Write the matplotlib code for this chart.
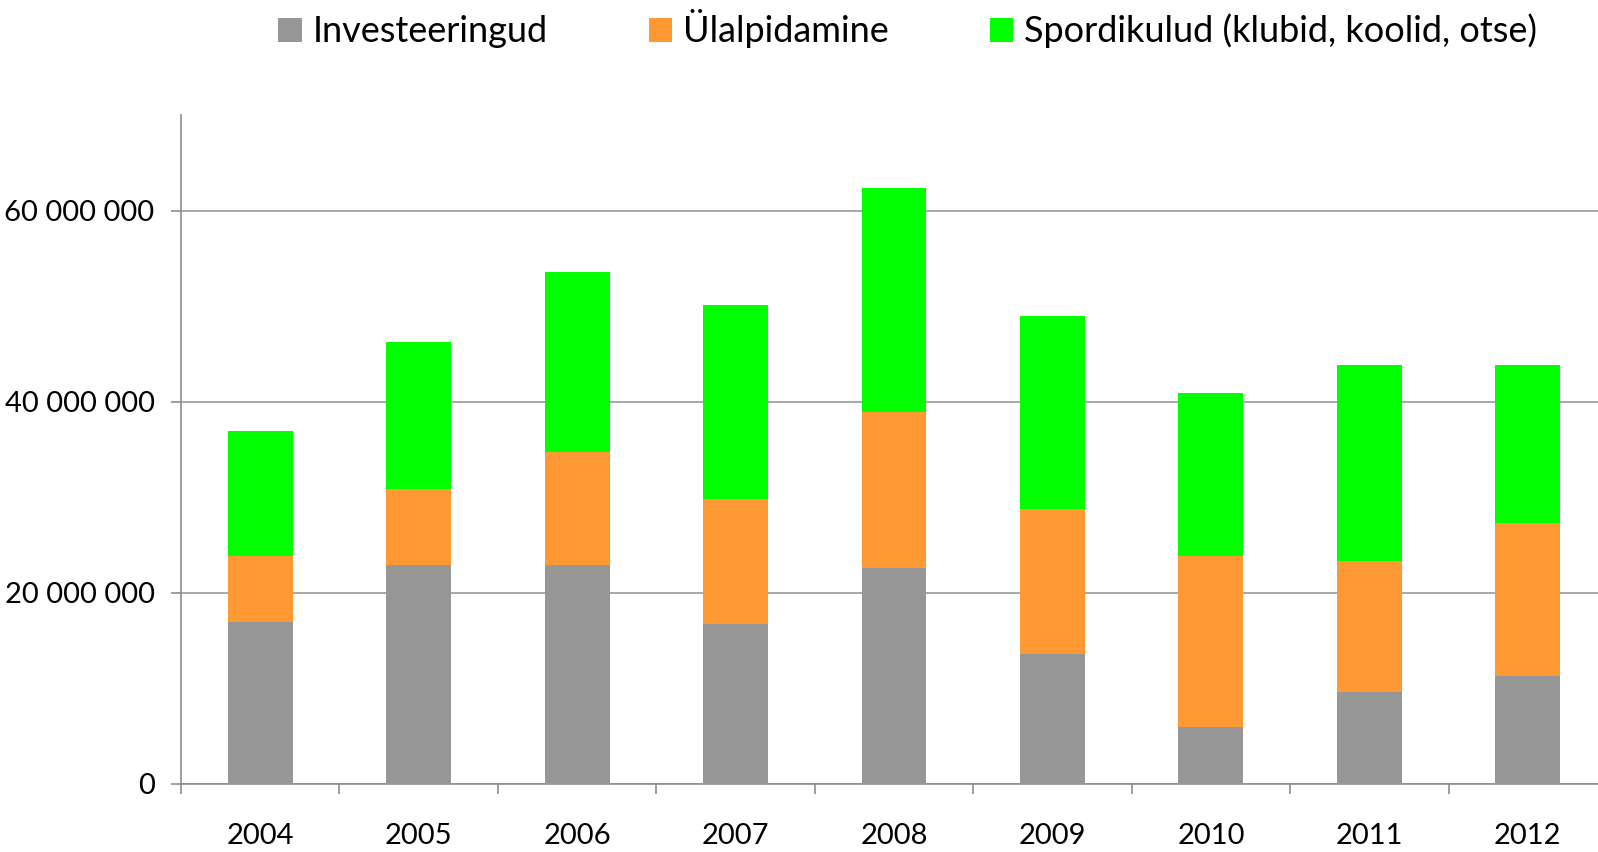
import matplotlib
matplotlib.use("Agg")
import matplotlib.pyplot as plt
from matplotlib.patches import Patch
import numpy as np

years = ['2004', '2005', '2006', '2007', '2008', '2009', '2010', '2011', '2012']
# stacked values (EUR)
investeeringud = [17.0e6, 22.9e6, 22.9e6, 16.7e6, 22.6e6, 13.6e6, 6.0e6, 9.6e6, 11.3e6]
ulalpidamine = [6.9e6, 8.0e6, 11.8e6, 13.1e6, 16.3e6, 15.2e6, 17.9e6, 13.7e6, 16.0e6]
spordikulud = [13.0e6, 15.3e6, 18.9e6, 20.3e6, 23.5e6, 20.2e6, 17.0e6, 20.5e6, 16.5e6]

labels = ['Investeeringud', 'Ülalpidamine', 'Spordikulud (klubid, koolid, otse)']
colors = ['#969696', '#FF9933', '#00FF00']

plt.rcParams['font.family'] = ['Lato', 'DejaVu Sans']

fig = plt.figure(figsize=(15.98, 8.52), dpi=100)
# plot area runs a bit past the right edge of the image, like the original
ax = fig.add_axes([181 / 1598, 1 - 784 / 852, (1607 - 181) / 1598, (784 - 115) / 852])

x = np.arange(len(years))
w = 0.41
bottom = np.zeros(len(years))
for vals, c in zip([investeeringud, ulalpidamine, spordikulud], colors):
    ax.bar(x, vals, width=w, bottom=bottom, color=c, zorder=3)
    bottom += np.array(vals)

ax.set_xlim(-0.5, 8.5)
ax.set_ylim(0, 70e6)
ax.set_yticks([0, 20e6, 40e6, 60e6])
ax.set_yticklabels(['{:,}'.format(int(v)).replace(',', ' ') for v in [0, 20e6, 40e6, 60e6]])
ax.yaxis.grid(True, color='#9a9a9a', linewidth=1.2, zorder=0)

ax.set_xticks(np.arange(-0.5, 9.0, 1.0))
ax.set_xticklabels([])
ax.set_xticks(x, minor=True)
ax.set_xticklabels(years, minor=True)
ax.tick_params(axis='x', which='major', length=7, width=1.2, color='#8c8c8c', direction='out')
ax.tick_params(axis='x', which='minor', length=0, pad=28, labelsize=21)
ax.tick_params(axis='y', length=7, width=1.2, color='#8c8c8c', pad=12, labelsize=21)

for s in ['top', 'right']:
    ax.spines[s].set_visible(False)
for s in ['left', 'bottom']:
    ax.spines[s].set_color('#8c8c8c')
    ax.spines[s].set_linewidth(1.2)

handles = [Patch(facecolor=c, edgecolor='none') for c in colors]
fig.legend(handles, labels, loc='center', bbox_to_anchor=(0.568, 1 - 29 / 852), ncol=3,
           frameon=False, fontsize=26, handlelength=0.65, handleheight=0.65,
           handletextpad=0.3, columnspacing=2.8)

fig.savefig('out.png', dpi=100)
